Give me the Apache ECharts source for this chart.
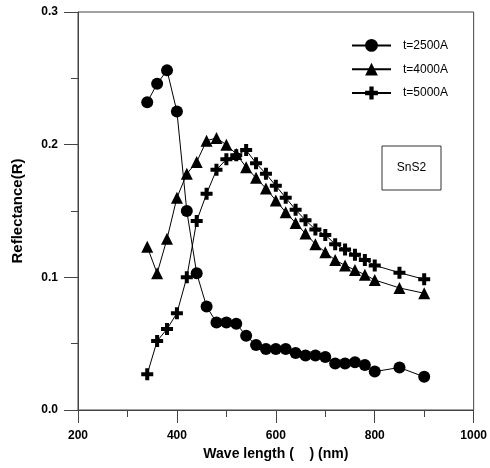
<!DOCTYPE html>
<html>
<head>
<meta charset="utf-8">
<script src="https://cdn.jsdelivr.net/npm/echarts@6/dist/echarts.min.js"></script>
<style>html,body{margin:0;padding:0;background:#fff;}#c{width:490px;height:468px;}</style>
</head>
<body>
<div id="c"></div>
<script>
var wavelengths = [340,360,380,400,420,440,460,480,500,520,540,560,580,600,620,640,660,680,700,720,740,760,780,800,850,900];
var r2500 = [0.232,0.246,0.256,0.225,0.150,0.103,0.078,0.066,0.066,0.065,0.056,0.049,0.046,0.046,0.046,0.043,0.041,0.041,0.040,0.035,0.035,0.036,0.034,0.029,0.032,0.025];
var r4000 = [0.123,0.103,0.129,0.160,0.178,0.187,0.203,0.205,0.200,0.193,0.183,0.175,0.167,0.158,0.149,0.141,0.133,0.125,0.119,0.113,0.109,0.1055,0.102,0.098,0.092,0.088];
var r5000 = [0.027,0.052,0.061,0.073,0.100,0.1425,0.163,0.181,0.189,0.192,0.196,0.186,0.178,0.169,0.160,0.151,0.143,0.136,0.132,0.125,0.121,0.117,0.113,0.109,0.1035,0.0985];
var seriesNames = ['t=2500A','t=4000A','t=5000A'];
var xTitle = 'Wave length (    ) (nm)';
var yTitle = 'Reflectance(R)';
var boxLabel = 'SnS2';

function pairs(ys){ return wavelengths.map(function(x,i){ return [x, ys[i]]; }); }
var FONT = '"Liberation Sans", Arial, sans-serif';
var PLUS = 'path://M4,0H8V4H12V8H8V12H4V8H0V4H4Z';
var symbols = ['circle','triangle',PLUS];
var sizes = [12,12,12];
var allData = [r2500, r4000, r5000];

var chart = echarts.init(document.getElementById('c'), null, {renderer:'canvas'});
var axisColor = '#444';
chart.setOption({
  animation:false,
  backgroundColor:'#fff',
  grid:{left:78,right:13,top:12,bottom:58,show:true,borderColor:axisColor,borderWidth:1,backgroundColor:'transparent'},
  legend:{
    orient:'vertical', left:346, top:34, itemWidth:39, itemHeight:16, itemGap:11,
    textStyle:{fontFamily:FONT,fontSize:12,color:'#000',padding:[0,0,0,7]},
    data:seriesNames
  },
  xAxis:{
    type:'value', min:200, max:1000, interval:200,
    name:xTitle, nameLocation:'middle', nameGap:36,
    nameTextStyle:{fontFamily:FONT,fontSize:14,fontWeight:'bold',color:'#000'},
    axisLine:{lineStyle:{color:axisColor,width:1}},
    axisTick:{show:true,inside:false,length:13,lineStyle:{color:axisColor}},
    minorTick:{show:true,splitNumber:2,length:7,lineStyle:{color:axisColor}},
    axisLabel:{fontFamily:FONT,fontSize:12,fontWeight:'bold',color:'#000',margin:20,
      formatter:function(v){return String(v);}},
    splitLine:{show:false}
  },
  yAxis:{
    type:'value', min:0, max:0.3, interval:0.1,
    name:yTitle, nameLocation:'middle', nameGap:53, nameRotate:90,
    nameTextStyle:{fontFamily:FONT,fontSize:15,fontWeight:'bold',color:'#000'},
    axisLine:{show:true,lineStyle:{color:axisColor,width:1}},
    axisTick:{show:true,inside:false,length:14,lineStyle:{color:axisColor}},
    minorTick:{show:true,splitNumber:2,length:7,lineStyle:{color:axisColor}},
    axisLabel:{fontFamily:FONT,fontSize:12,fontWeight:'bold',color:'#000',margin:20,
      formatter:function(v){return v.toFixed(1);}},
    splitLine:{show:false}
  },
  series: seriesNames.map(function(n,i){
    return {
      name:n, type:'line', data:pairs(allData[i]),
      symbol:symbols[i], symbolSize:sizes[i], showAllSymbol:true,
      lineStyle:{color:'#000',width:1},
      itemStyle:{color:'#000',borderWidth:0},
      z:2+i
    };
  }),
  graphic:[
    {type:'rect', shape:{x:382,y:146,width:59,height:44}, style:{fill:'#fff',stroke:'#333',lineWidth:1}, z:10},
    {type:'text', x:411.5, y:168, style:{text:boxLabel,font:'12px '+FONT,fill:'#000',textAlign:'center',textVerticalAlign:'middle'}, z:11}
  ]
});
</script>
</body>
</html>
